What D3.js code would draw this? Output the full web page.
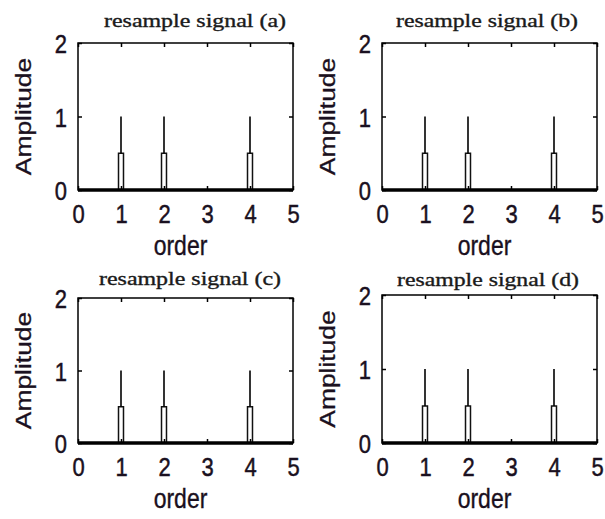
<!DOCTYPE html>
<html>
<head>
<meta charset="utf-8">
<script src="https://cdn.jsdelivr.net/npm/d3@7"></script>
<style>
  body { margin: 0; background: #fff; }
  svg { display: block; }
  .tick text { font-family: Arial, "Liberation Sans", sans-serif; font-size: 22px; fill: #1a1020; stroke: #1a1020; stroke-width: 0.4px; }
  .domain { display: none; }
</style>
</head>
<body>
<div id="chart"></div>
<script>
// data
var panels = ["resample signal (a)", "resample signal (b)", "resample signal (c)", "resample signal (d)"];
var orders = [1, 2, 4];            // harmonic orders
var amplitudes = [1, 1, 1];        // original line amplitude
var resampleAmp = [0.5, 0.5, 0.5]; // resampled component amplitude
var resampleHalfWidth = 0.058;     // half width (order units) of resampled component
var xTicks = [0, 1, 2, 3, 4, 5];
var yTicks = [0, 1, 2];

var W = 605, H = 519;
// box positions of the four subplots
var boxes = [
  {x0: 78,  x1: 293, top: 43,  bottom: 190, titleX: 195, titleY: 27},
  {x0: 382, x1: 597, top: 43,  bottom: 190, titleX: 487, titleY: 27},
  {x0: 78,  x1: 293, top: 298, bottom: 443, titleX: 190, titleY: 285},
  {x0: 382, x1: 597, top: 295, bottom: 443, titleX: 488, titleY: 286}
];

var svg = d3.select("div#chart")
  .append("svg")
  .attr("width", W)
  .attr("height", H);

var sy = 1.2; // text in the picture is stretched vertically

panels.forEach(function(title, i) {
  var b = boxes[i];
  var xScale = d3.scaleLinear().domain([0, 5]).range([b.x0, b.x1]);
  var yScale = d3.scaleLinear().domain([0, 2]).range([b.bottom, b.top]);

  var g = svg.append("g").attr("class", "panel");

  // resampled component: narrow rectangle outline
  orders.forEach(function(o, k) {
    var pts = [
      [o - resampleHalfWidth, 0],
      [o - resampleHalfWidth, resampleAmp[k]],
      [o + resampleHalfWidth, resampleAmp[k]],
      [o + resampleHalfWidth, 0]
    ];
    g.append("path")
      .attr("d", d3.line().x(d => xScale(d[0])).y(d => yScale(d[1]))(pts))
      .attr("fill", "none")
      .attr("stroke", "#111")
      .attr("stroke-width", 1.5);
  });

  // original spectral lines
  g.selectAll(".stem")
    .data(orders)
    .enter()
    .append("line")
    .attr("class", "stem")
    .attr("x1", d => xScale(d))
    .attr("x2", d => xScale(d))
    .attr("y1", (d, k) => yScale(resampleAmp[k]))
    .attr("y2", (d, k) => yScale(amplitudes[k]))
    .attr("stroke", "#000")
    .attr("stroke-width", 1.6);

  // zero line (thick)
  g.append("line")
    .attr("x1", xScale(0)).attr("x2", xScale(5))
    .attr("y1", yScale(0)).attr("y2", yScale(0))
    .attr("stroke", "#000")
    .attr("stroke-width", 3.5);

  // box
  g.append("rect")
    .attr("x", b.x0).attr("y", b.top)
    .attr("width", b.x1 - b.x0).attr("height", b.bottom - b.top)
    .attr("fill", "none")
    .attr("stroke", "#000")
    .attr("stroke-width", 1.5);

  // axes with inward ticks
  var bottomAx = g.append("g")
    .attr("transform", "translate(0," + b.bottom + ")")
    .call(d3.axisBottom(xScale).tickValues(xTicks).tickSize(-4).tickFormat(d3.format("d")));
  bottomAx.selectAll(".tick line").attr("stroke", "#000").attr("stroke-width", 1.5);
  bottomAx.selectAll(".tick text")
    .attr("y", 33 / sy).attr("dy", 0)
    .attr("transform", "scale(1," + sy + ")");

  var leftAx = g.append("g")
    .attr("transform", "translate(" + b.x0 + ",0)")
    .call(d3.axisLeft(yScale).tickValues(yTicks).tickSize(-4).tickFormat(d3.format("d")));
  leftAx.selectAll(".tick line").attr("stroke", "#000").attr("stroke-width", 1.5);
  leftAx.selectAll(".tick text")
    .attr("x", -11).attr("dy", "0.36em")
    .attr("transform", "scale(1," + sy + ")")
    .attr("y", 0);

  var topAx = g.append("g")
    .attr("transform", "translate(0," + b.top + ")")
    .call(d3.axisTop(xScale).tickValues(xTicks).tickSize(-4).tickFormat(""));
  topAx.selectAll(".tick line").attr("stroke", "#000").attr("stroke-width", 1.5);

  var rightAx = g.append("g")
    .attr("transform", "translate(" + b.x1 + ",0)")
    .call(d3.axisRight(yScale).tickValues(yTicks).tickSize(-4).tickFormat(""));
  rightAx.selectAll(".tick line").attr("stroke", "#000").attr("stroke-width", 1.5);

  // title
  g.append("text")
    .attr("x", b.titleX)
    .attr("y", b.titleY)
    .attr("text-anchor", "middle")
    .attr("font-family", "'Liberation Serif', 'Times New Roman', serif")
    .attr("font-size", 18)
    .attr("textLength", 182)
    .attr("lengthAdjust", "spacingAndGlyphs")
    .attr("fill", "#1a1a1a")
    .attr("stroke", "#1a1a1a")
    .attr("stroke-width", 0.35)
    .text(title);

  // x label
  var cx = (b.x0 + b.x1) / 2;
  g.append("text")
    .attr("transform", "translate(" + (cx - 5) + "," + (b.bottom + 65) + ") scale(1," + sy + ")")
    .attr("text-anchor", "middle")
    .attr("font-family", "Arial, 'Liberation Sans', sans-serif")
    .attr("font-size", 23)
    .attr("fill", "#1a1020")
    .attr("stroke", "#1a1020")
    .attr("stroke-width", 0.3)
    .text("order");

  // y label
  g.append("text")
    .attr("transform", "translate(" + (b.x0 - 47) + "," + ((b.top + b.bottom) / 2) + ") rotate(-90) scale(" + sy + ",1)")
    .attr("text-anchor", "middle")
    .attr("font-family", "Arial, 'Liberation Sans', sans-serif")
    .attr("font-size", 22)
    .attr("fill", "#1a1020")
    .attr("stroke", "#1a1020")
    .attr("stroke-width", 0.3)
    .text("Amplitude");
});
</script>
</body>
</html>
